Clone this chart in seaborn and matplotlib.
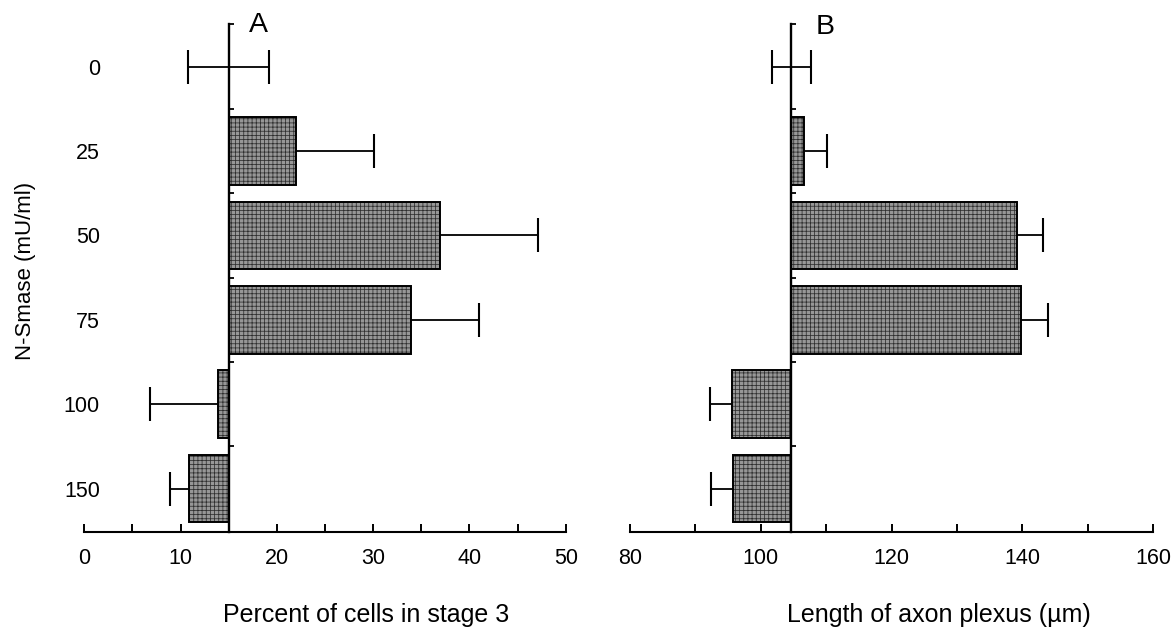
import numpy as np
import pandas as pd
import matplotlib
matplotlib.use("Agg")
import matplotlib.pyplot as plt
import seaborn as sns
from matplotlib.ticker import MultipleLocator, FixedLocator

# ---------------- data ----------------
doses = ["0", "25", "50", "75", "100", "150"]

stage3_pct = [15.0, 22.0, 36.9, 33.9, 13.85, 10.85]
stage3_err = [4.2, 8.1, 10.2, 7.1, 7.05, 2.0]
stage3_base = 15.0

axon_len = [104.7, 106.6, 139.2, 139.8, 95.6, 95.7]
axon_err = [3.05, 3.6, 4.0, 4.2, 3.4, 3.3]
axon_base = 104.7

xlabel_a = "Percent of cells in stage 3"
xlabel_b = "Length of axon plexus (\u00b5m)"
ylabel = "N-Smase (mU/ml)"

# ---------------- style ----------------
sns.set_style("ticks")
plt.rcParams["font.family"] = ["Liberation Sans", "DejaVu Sans"]
plt.rcParams["hatch.linewidth"] = 0.55
for k in ["text.color", "axes.labelcolor", "xtick.color", "ytick.color",
          "axes.edgecolor"]:
    plt.rcParams[k] = "black"

W, H = 1173, 629
fig = plt.figure(figsize=(W / 100, H / 100), dpi=100)
axA = fig.add_axes([84.3 / W, 1 - 531.7 / H, 481.4 / W, 507.4 / H])
axB = fig.add_axes([630 / W, 1 - 531.7 / H, 523 / W, 507.4 / H])


def panel(ax, values, errs, base, xlim, major, minor, show_cats):
    df = pd.DataFrame({"dose": doses, "delta": np.array(values) - base})
    # textured fill
    sns.barplot(data=df, x="delta", y="dose", orient="h", ax=ax, left=base,
                color="#979797", saturation=1, edgecolor="#2e2e2e",
                linewidth=0, hatch="++++", width=0.8, errorbar=None)
    # black outline
    sns.barplot(data=df, x="delta", y="dose", orient="h", ax=ax, left=base,
                color="black", saturation=1, facecolor="none",
                edgecolor="black", linewidth=1.4, width=0.8, errorbar=None)

    # one-sided error bars (outward from bar end), two-sided for control
    for i, (v, e) in enumerate(zip(values, errs)):
        lo = v - e if v <= base + 1e-9 else v
        hi = v + e if v >= base - 1e-9 else v
        ax.hlines(i, lo, hi, color="black", lw=1.3, zorder=4)
        caps = []
        if v <= base + 1e-9:
            caps.append(lo)
        if v >= base - 1e-9:
            caps.append(hi)
        ax.plot(caps, [i] * len(caps), ls="none", marker="|", markersize=24,
                mew=1.5, color="black", zorder=4)

    ax.set_xlim(*xlim)
    ax.set_ylim(5.51, -0.5)

    for s in ["top", "left"]:
        ax.spines[s].set_visible(False)
    ax.spines["bottom"].set_linewidth(1.5)
    ax.spines["right"].set_visible(True)
    ax.spines["right"].set_position(("data", base))
    ax.spines["right"].set_linewidth(1.7)
    ax.spines["right"].set_zorder(5)

    ax.xaxis.set_major_locator(MultipleLocator(major))
    ax.xaxis.set_minor_locator(MultipleLocator(minor))
    ax.tick_params(axis="x", which="both", direction="in", length=6, width=1.4,
                   labelsize=15.5, pad=12, top=False, bottom=True)

    ax.yaxis.set_minor_locator(FixedLocator([-0.5, 0.5, 1.5, 2.5, 3.5, 4.5]))
    ax.tick_params(axis="y", which="minor", left=False, right=True,
                   direction="out", length=3.5, width=1.3)
    ax.tick_params(axis="y", which="major", left=True, right=False, length=0,
                   labelsize=15.5, pad=-11.3, labelleft=show_cats)
    for lab in ax.get_yticklabels():
        lab.set_horizontalalignment("right")
    ax.set_ylabel("")
    ax.set_xlabel("")


panel(axA, stage3_pct, stage3_err, stage3_base, (0, 50), 10, 5, True)
panel(axB, axon_len, axon_err, axon_base, (80, 160), 20, 10, False)

axA.set_xlabel(xlabel_a, fontsize=18)
axA.xaxis.set_label_coords(0.585, -0.14)
axB.set_xlabel(xlabel_b, fontsize=18)
axB.xaxis.set_label_coords(0.59, -0.14)

axA.set_ylabel(ylabel, fontsize=16)
axA.yaxis.set_label_coords(-0.100, 0.514)

fig.text(258 / W, 1 - 25 / H, "A", fontsize=20.5, ha="center", va="center")
fig.text(825 / W, 1 - 26.7 / H, "B", fontsize=20.5, ha="center", va="center")

fig.savefig("out.png", dpi=100, facecolor="white")
